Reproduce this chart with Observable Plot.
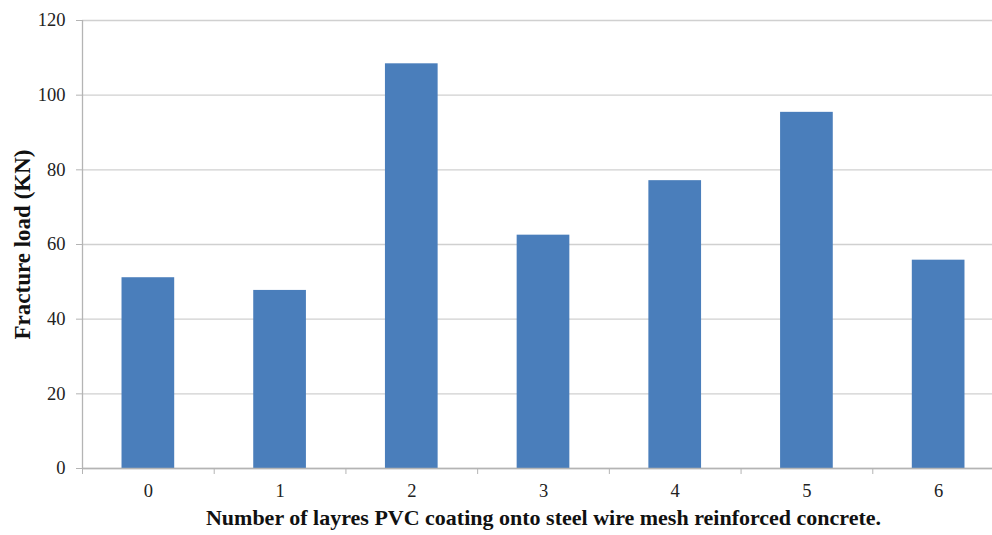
<!DOCTYPE html>
<html>
<head>
<meta charset="utf-8">
<script src="https://cdn.jsdelivr.net/npm/d3@7"></script>
<script src="https://cdn.jsdelivr.net/npm/@observablehq/plot@0.6"></script>
<style>
  html, body { margin: 0; padding: 0; background: #fff; }
  #chart svg { display: block; }
</style>
</head>
<body>
<div id="chart"></div>
<script>
// Number of PVC coating layers on the steel wire mesh
const layers = [0, 1, 2, 3, 4, 5, 6];
// Fracture load for each specimen (kN)
const fractureLoad = [51.1, 47.7, 108.4, 62.5, 77.1, 95.4, 55.8];
// Value axis ticks
const yTicks = [0, 20, 40, 60, 80, 100, 120];

const data = layers.map((n, i) => ({layers: n, load: fractureLoad[i]}));

// Category boundaries, where the horizontal axis draws its tick marks
const boundaries = [layers[0] - 0.5, ...layers.map(n => n + 0.5)];
const halfBar = 0.2;

const gridColor = "#d0d0d0";
const axisColor = "#b4b4b4";
const serif = "'Liberation Serif', 'Times New Roman', serif";

const chart = Plot.plot({
  width: 992,
  height: 535,
  marginLeft: 82,
  marginRight: -12,
  marginTop: 20,
  marginBottom: 67,
  x: {domain: [boundaries[0], boundaries[boundaries.length - 1]]},
  y: {domain: [0, 120]},
  style: {
    fontFamily: serif,
    fontSize: "18px",
    color: "#222",
    background: "#fff"
  },
  marks: [
    Plot.gridY(yTicks, {stroke: gridColor, strokeOpacity: 1, strokeWidth: 1.3}),
    Plot.rectY(data, {
      x1: d => d.layers - halfBar,
      x2: d => d.layers + halfBar,
      y: "load",
      fill: "#4a7ebb"
    }),
    Plot.ruleX([boundaries[0]], {stroke: axisColor, strokeWidth: 1.3}),
    Plot.ruleY([0], {stroke: axisColor, strokeWidth: 1.3}),
    // tick marks only; the labels are drawn as text marks below
    Plot.axisY({
      ticks: yTicks,
      tickSize: 6,
      text: null,
      stroke: axisColor,
      label: null
    }),
    Plot.axisX({
      ticks: boundaries,
      tickSize: 6,
      text: null,
      stroke: axisColor,
      label: null
    }),
    Plot.text(yTicks, {
      x: boundaries[0],
      y: d => d,
      text: d => String(d),
      dx: -17,
      textAnchor: "end",
      fontFamily: serif,
      fontSize: 18.5,
      fill: "#222"
    }),
    Plot.text(layers, {
      x: d => d,
      y: 0,
      text: d => String(d),
      dy: 23,
      fontFamily: serif,
      fontSize: 18.5,
      fill: "#222"
    }),
    Plot.text(["Fracture load (KN)"], {
      frameAnchor: "left",
      textAnchor: "middle",
      dx: -60,
      rotate: -90,
      fontFamily: serif,
      fontWeight: "bold",
      fontSize: 23,
      fill: "#111"
    }),
    Plot.text(["Number of layres PVC coating onto steel wire mesh reinforced concrete."], {
      frameAnchor: "bottom",
      dy: 56,
      fontFamily: serif,
      fontWeight: "bold",
      fontSize: 22,
      fill: "#111"
    })
  ]
});

document.getElementById("chart").appendChild(chart);
</script>
</body>
</html>
